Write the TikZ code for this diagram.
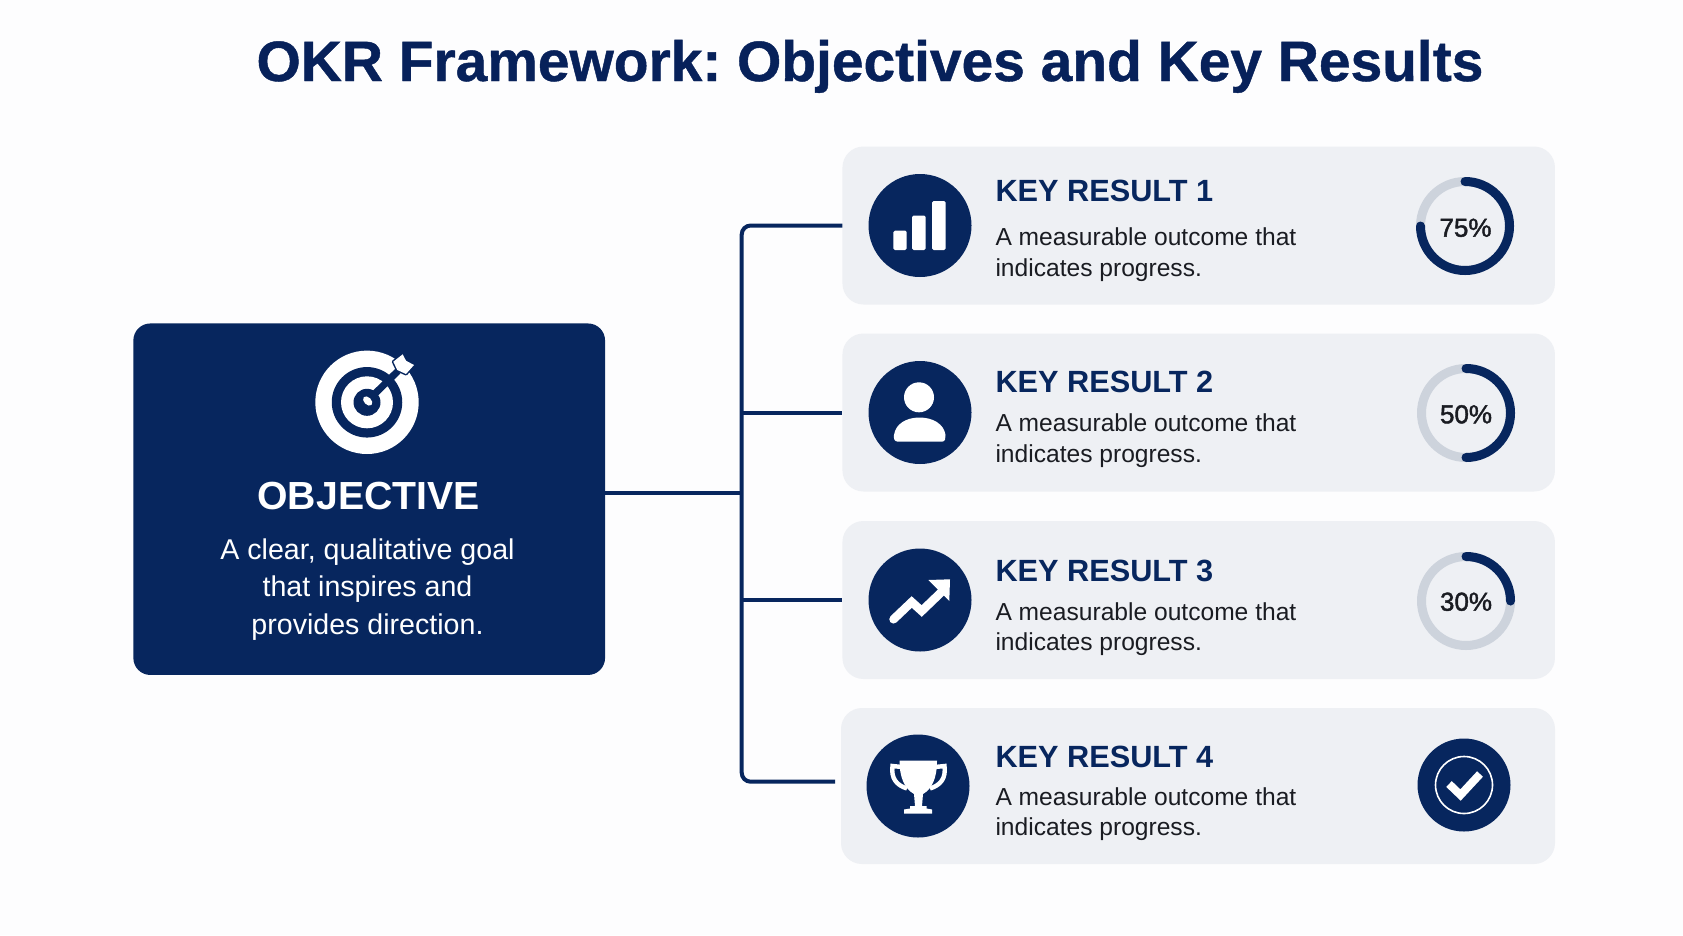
\documentclass[tikz,border=0pt]{standalone}
\usepackage{fontspec}
\setmainfont{Liberation Sans}
\newfontfamily\medfont[FakeBold=1.6]{Liberation Sans}
\newfontfamily\titlefont[FakeBold=0.8]{Liberation Sans Bold}
\frenchspacing
\definecolor{navy}{HTML}{07265E}
\definecolor{titlenavy}{HTML}{07215A}
\definecolor{cardbg}{HTML}{EEF0F4}
\definecolor{pagebg}{HTML}{FDFDFE}
\definecolor{ringgray}{HTML}{CDD3DC}
\definecolor{bodyink}{HTML}{1A1C22}
\tikzset{
  x=1pt,y=-1pt,
  objbox/.style={fill=navy,rounded corners=17pt,inner sep=0pt,minimum width=471.7pt,minimum height=351.5pt},
  card/.style={fill=cardbg,rounded corners=21pt,inner sep=0pt,minimum width=712.5pt,minimum height=158pt},
  conn/.style={draw=navy,line width=4pt,rounded corners=9pt},
  iconbg/.style={circle,fill=navy,inner sep=0pt,minimum size=103pt},
  krtitle/.style={anchor=base west,inner sep=0pt,text=navy,font=\fontsize{30.7}{36}\selectfont\bfseries},
  krbody/.style={anchor=base west,inner sep=0pt,text=bodyink,align=left,font=\fontsize{24.6}{30.8}\selectfont},
  pct/.style={anchor=base,inner sep=0pt,text=bodyink,font=\fontsize{26}{30}\medfont},
  ringbase/.style={draw=ringgray,line width=9pt},
  ringfill/.style={draw=navy,line width=9pt,line cap=round},
}
\begin{document}
\begin{tikzpicture}
\useasboundingbox (0,0) rectangle (1683,935);
\fill[pagebg] (0,0) rectangle (1683,935);

\node[anchor=base,inner sep=0pt,text=titlenavy,font=\fontsize{56.9}{64}\titlefont] (title) at (870,81) {OKR Framework: Objectives and Key Results};

% boxes
\node[objbox] (obj) at (369.2,499.2) {};
\node[card] (kr1) at (1198.7,225.5) {};
\node[card] (kr2) at (1198.7,412.5) {};
\node[card] (kr3) at (1198.7,600) {};
\node[card,minimum width=714pt,minimum height=156pt] (kr4) at (1198,786) {};

% connectors
\coordinate (hub) at (741.7,492.7);
\coordinate (end4) at (835,781.7);
\draw[conn] (kr1.west) -- (hub |- kr1.west) -- (hub |- end4) -- (end4);
\draw[conn,rounded corners=0pt] (obj.east |- hub) -- (hub);
\draw[conn,rounded corners=0pt] (hub |- kr2.west) -- (kr2.west);
\draw[conn,rounded corners=0pt] (hub |- kr3.west) -- (kr3.west);

% objective icon: target
\node[circle,fill=white,inner sep=0pt,minimum size=103.4pt] (tgt) at (367,402.3) {};
\node[circle,fill=navy,inner sep=0pt,minimum size=70.5pt] (tgtA) at (tgt) {};
\node[circle,fill=white,inner sep=0pt,minimum size=52pt] (tgtB) at (tgt) {};
\node[circle,fill=navy,inner sep=0pt,minimum size=27pt] (tgtC) at (tgt) {};
\draw[navy,line width=7pt] (368,400.5) -- (398,371);
\fill[white,rotate around={-45:(367.7,401)}] (367.7,401) ellipse [x radius=5.5,y radius=3.6];
\draw[navy,line width=3pt,line join=round] (393.3,361.7) -- (402.7,354.3) -- (406,360.7) -- (414,365) -- (406,374) -- (397.3,370) -- cycle;
\fill[white] (393.3,361.7) -- (402.7,354.3) -- (406,360.7) -- (414,365) -- (406,374) -- (397.3,370) -- cycle;

% objective text
\node[anchor=base,inner sep=0pt,text=white,font=\fontsize{39.2}{44}\selectfont\bfseries] (objt) at (368.5,509) {OBJECTIVE};
\node[anchor=base,inner sep=0pt,text=white,align=center,font=\fontsize{28.6}{37.3}\selectfont] (objb) at (367.5,634) {A clear, qualitative goal\\that inspires and\\provides direction.};

% KR1
\node[iconbg] (ic1) at (920,225.5) {};
\fill[white,rounded corners=1.5pt] (893.3,230.7) rectangle (906.7,250);
\fill[white,rounded corners=1.5pt] (912,215.7) rectangle (925.7,250);
\fill[white,rounded corners=1.5pt] (932,201) rectangle (945.7,250);
\node[krtitle] (t1) at (995.3,201.7) {KEY RESULT 1};
\node[krbody] (b1) at (995.3,276.5) {A measurable outcome that\\indicates progress.};
\coordinate (r1) at (1465,226);
\draw[ringbase] (r1) circle [radius=44.5];
\draw[ringfill] (1465,181.5) arc [start angle=-90,end angle=180,radius=44.5];
\node[pct] (p1) at (1465.5,236.7) {75\%};

% KR2
\node[iconbg] (ic2) at (920,412.5) {};
\fill[white] (919,397.3) circle [radius=15];
\fill[white] (898,441.7) .. controls (894,441.7) and (893.5,438) .. (894,435) .. controls (895.5,424) and (906,417.5) .. (919.5,417.5) .. controls (933,417.5) and (944,424) .. (945.5,435) .. controls (946,438) and (945,441.7) .. (942,441.7) -- cycle;
\node[krtitle] (t2) at (995.3,392) {KEY RESULT 2};
\node[krbody] (b2) at (995.3,462.5) {A measurable outcome that\\indicates progress.};
\coordinate (r2) at (1466,413);
\draw[ringbase] (r2) circle [radius=44.5];
\draw[ringfill] (1466,368.5) arc [start angle=-90,end angle=90,radius=44.5];
\node[pct] (p2) at (1466,423.3) {50\%};

% KR3
\node[iconbg] (ic3) at (920,600) {};
\draw[white,line width=8.5pt,line cap=round,line join=miter] (893.5,619.3) -- (911.7,602) -- (921.7,611) -- (942,591.5);
\fill[white] (928.3,580) -- (950,579.3) -- (949.3,601) -- cycle;
\node[krtitle] (t3) at (995.3,581) {KEY RESULT 3};
\node[krbody] (b3) at (995.3,650.8) {A measurable outcome that\\indicates progress.};
\coordinate (r3) at (1466,601);
\draw[ringbase] (r3) circle [radius=44.5];
\draw[ringfill] (1466,556.5) arc [start angle=-90,end angle=0,radius=44.5];
\node[pct] (p3) at (1466,610.7) {30\%};

% KR4
\node[iconbg] (ic4) at (918,786) {};
\draw[white,line width=4.4pt] (902,767) -- (892.5,766) .. controls (891,778) and (896,785) .. (907,788.5);
\draw[white,line width=4.4pt] (935,767) -- (944.5,766) .. controls (946,778) and (941,785) .. (930,788.5);
\fill[white] (899.5,760.7) -- (937,760.7) .. controls (937,778) and (932,789) .. (923,794) -- (922,806) -- (926.7,806) -- (926.7,808.5) -- (932,809.5) -- (932,813.5) -- (904,813.5) -- (904,809.5) -- (910,808.5) -- (910,806) -- (915,806) -- (914,794) .. controls (905,789) and (899.5,778) .. (899.5,760.7) -- cycle;
\node[krtitle] (t4) at (995.3,767) {KEY RESULT 4};
\node[krbody] (b4) at (995.3,835.8) {A measurable outcome that\\indicates progress.};
\node[circle,fill=navy,inner sep=0pt,minimum size=93pt] (chk) at (1464,785) {};
\node[circle,draw=white,line width=1.6pt,inner sep=0pt,minimum size=57pt] (chkring) at (chk) {};
\draw[white,line width=8pt] (1449,784) -- (1460.5,795) -- (1480,774);
\end{tikzpicture}
\end{document}
